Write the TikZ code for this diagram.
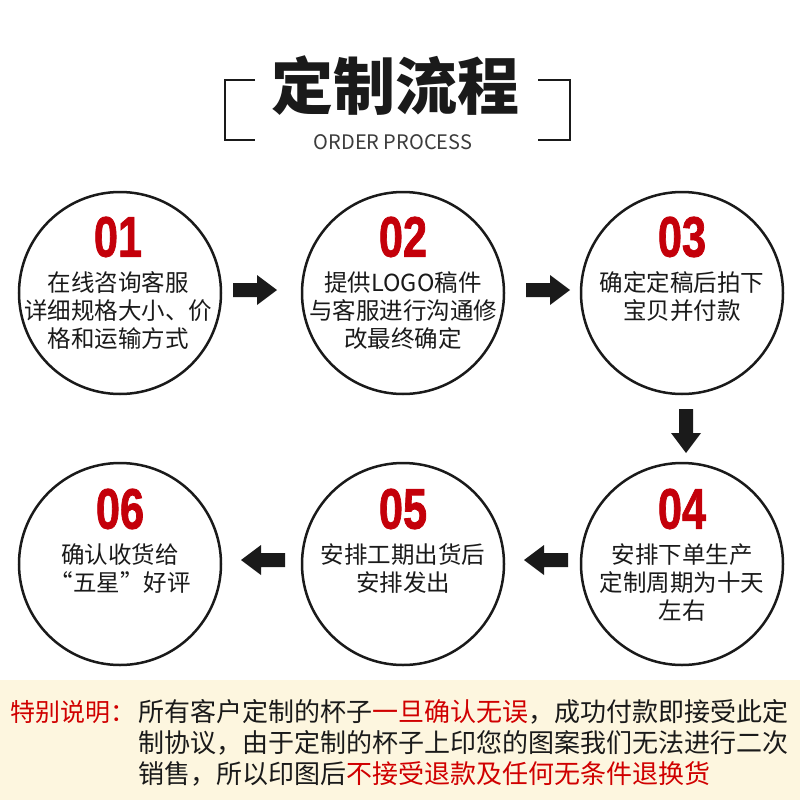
\documentclass[tikz,border=0pt]{standalone}
\usepackage{fontspec}
\setmainfont{Noto Sans CJK SC}
\newfontfamily\numfont[BoldFeatures={FakeBold=1.6}]{Liberation Sans}
\definecolor{numred}{HTML}{C4000A}
\definecolor{bandred}{HTML}{D00000}
\definecolor{band}{HTML}{FDF6DF}
\definecolor{ink}{HTML}{1A1A1A}
\tikzset{
  circ/.style={circle, draw=ink, line width=2.5pt, minimum size=202pt, inner sep=0pt},
  numtext/.style={inner sep=0pt, text=numred, font=\numfont\bfseries\fontsize{57}{57}\selectfont},
  bodytext/.style={inner sep=0pt, align=center, text=ink, font=\fontsize{23.5}{28}\selectfont},
  bandtext/.style={inner sep=0pt, anchor=west, text=ink, font=\fontsize{26}{31}\selectfont},
  bracket/.style={draw=ink, line width=2.8pt},
  blockarrow/.pic={\fill[ink] (-22,-7) -- (2,-7) -- (2,-15) -- (22,0) -- (2,15) -- (2,7) -- (-22,7) -- cycle;}
}
\begin{document}
\begin{tikzpicture}[x=1pt,y=-1pt]
\useasboundingbox (0,0) rectangle (800,800);
\fill[white] (0,0) rectangle (800,800);
% title
\node[inner sep=0pt, text=ink, font=\bfseries\fontsize{62}{62}\selectfont] (title) at (395,86) {定制流程};
\node[inner sep=0pt, text=ink!85, font=\fontsize{20}{20}\selectfont] (sub) at (393,142) {ORDER PROCESS};
\coordinate (bl1) at (255,80); \coordinate (bl2) at (225,80); \coordinate (bl3) at (225,140); \coordinate (bl4) at (255,140);
\coordinate (br1) at (538,80); \coordinate (br2) at (570,80); \coordinate (br3) at (570,140); \coordinate (br4) at (538,140);
\draw[bracket] (bl1) -- (bl2) -- (bl3) -- (bl4);
\draw[bracket] (br1) -- (br2) -- (br3) -- (br4);
% circles
\node[circ] (c1) at (120,293) {};
\node[circ] (c2) at (403,293) {};
\node[circ] (c3) at (682,293) {};
\node[circ] (c4) at (682,564) {};
\node[circ] (c5) at (403,564) {};
\node[circ] (c6) at (120,564) {};
% numbers
\node[numtext] (n1) at (118,237) {\scalebox{0.76}[1]{01}};
\node[numtext] (n2) at (403,237) {\scalebox{0.76}[1]{02}};
\node[numtext] (n3) at (682,237) {\scalebox{0.76}[1]{03}};
\node[numtext] (n4) at (682,509) {\scalebox{0.76}[1]{04}};
\node[numtext] (n5) at (403,509) {\scalebox{0.76}[1]{05}};
\node[numtext] (n6) at (120,509) {\scalebox{0.76}[1]{06}};
% texts
\node[bodytext] (t1) at (118,311) {在线咨询客服\\详细规格大小、价\\格和运输方式};
\node[bodytext] (t2) at (403,311) {提供LOGO稿件\\与客服进行沟通修\\改最终确定};
\node[bodytext] (t3) at (682,297) {确定定稿后拍下\\宝贝并付款};
\node[bodytext] (t4) at (682,583) {安排下单生产\\定制周期为十天\\左右};
\node[bodytext] (t5) at (403,569) {安排工期出货后\\安排发出};
\node[bodytext] (t6) at (120,569) {确认收货给\\“五星”好评};
% arrows
\pic at (255,290) {blockarrow};
\pic at (548,290) {blockarrow};
\pic[rotate=-90] at (686,431) {blockarrow};
\pic[rotate=180] at (546,560) {blockarrow};
\pic[rotate=180] at (263,560) {blockarrow};
% band
\fill[band] (0,680) rectangle (800,800);
\node[bandtext, text=bandred, font=\fontsize{25}{31}\selectfont] (s0) at (10,712) {特别说明：};
\node[bandtext] (s1) at (138,712) {所有客户定制的杯子{\color{bandred}一旦确认无误}，成功付款即接受此定};
\node[bandtext] (s2) at (138,743) {制协议，由于定制的杯子上印您的图案我们无法进行二次};
\node[bandtext] (s3) at (138,774) {销售，所以印图后{\color{bandred}不接受退款及任何无条件退换货}};
\end{tikzpicture}
\end{document}
